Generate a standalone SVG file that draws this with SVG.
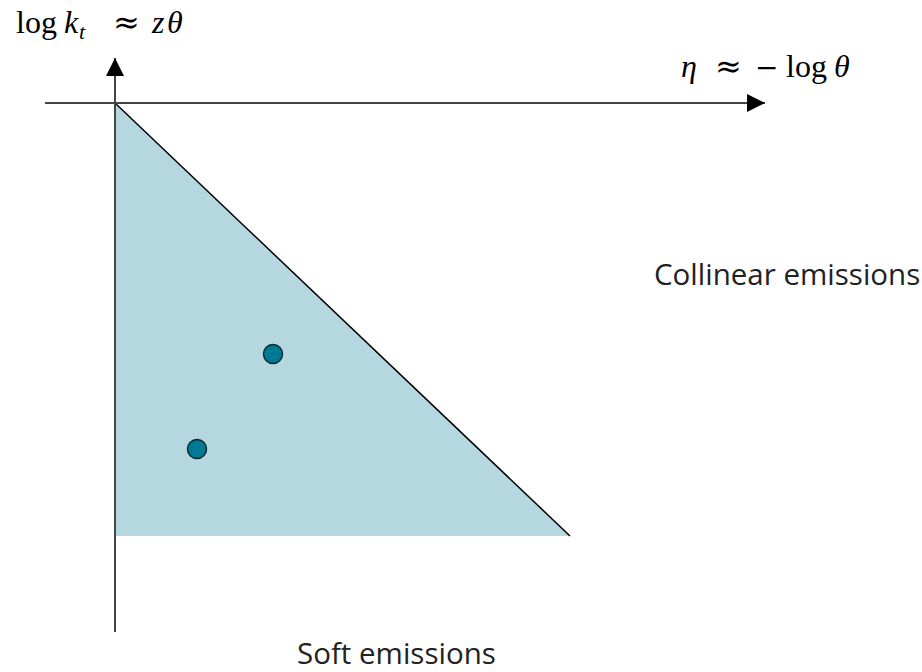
<svg xmlns="http://www.w3.org/2000/svg" width="922" height="672" viewBox="0 0 922 672">
<style>
.axis{stroke:#444;stroke-width:2;fill:none}
.math{font-family:"Liberation Serif","DejaVu Serif",serif;font-size:32px;fill:#000}
.it{font-style:italic}
.op{font-family:"DejaVu Serif",serif;font-style:normal}
.lbl{font-family:"Open Sans","Liberation Sans",sans-serif;font-size:29.5px;fill:#222}
.dot{fill:#007a94;stroke:#0a2a33;stroke-width:1.5}
</style>
<defs>
<marker id="arr" viewBox="0 0 10 10" refX="10" refY="5" markerWidth="18" markerHeight="18" markerUnits="userSpaceOnUse" orient="auto">
<path d="M0,0 L10,5 L0,10 Z" fill="#000"/>
</marker>
</defs>
<g id="region">
<polygon points="115,103 570,536 115,536" fill="#b5d8e0"/>
<line x1="115" y1="103" x2="570" y2="536" stroke="#000" stroke-width="1.5"/>
</g>
<g id="connectors">
<line class="axis" x1="45" y1="103" x2="765" y2="103" marker-end="url(#arr)"/>
<line class="axis" x1="115" y1="632" x2="115" y2="58" marker-end="url(#arr)"/>
</g>
<g id="dot1"><circle class="dot" cx="273" cy="354" r="9.5"/></g>
<g id="dot2"><circle class="dot" cx="197" cy="449" r="9.5"/></g>
<g id="ylabel">
<text class="math" y="33"><tspan x="16">log</tspan><tspan class="it" x="64">k</tspan><tspan class="it" font-size="22" x="79" y="39">t</tspan><tspan class="op" font-size="32" x="113" y="33">≈</tspan><tspan class="it" x="152">z</tspan><tspan class="it" x="167">θ</tspan></text>
</g>
<g id="xlabel">
<text class="math" y="77"><tspan class="it" x="681">η</tspan><tspan class="op" font-size="32" x="715">≈</tspan><tspan class="op" font-size="28" x="755">−</tspan><tspan x="786">log</tspan><tspan class="it" x="834">θ</tspan></text>
</g>
<g id="collinear"><text class="lbl" x="654" y="285">Collinear emissions</text></g>
<g id="soft"><text class="lbl" x="297" y="664">Soft emissions</text></g>
</svg>
